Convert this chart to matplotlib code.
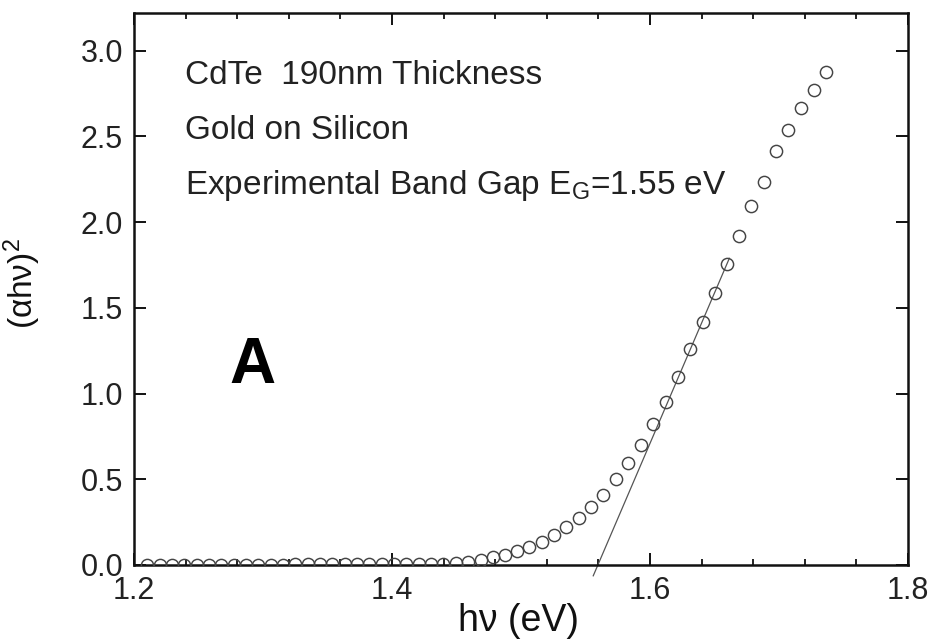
import matplotlib
matplotlib.use("Agg")
import matplotlib.pyplot as plt
from matplotlib.ticker import MultipleLocator

plt.rcParams['font.family'] = ['Liberation Sans', 'DejaVu Sans']
plt.rcParams['mathtext.fontset'] = 'custom'
plt.rcParams['mathtext.rm'] = 'Liberation Sans'
plt.rcParams['mathtext.it'] = 'Liberation Sans:italic'

# photon energy (eV)
energy = [1.2102, 1.2198, 1.2293, 1.2389, 1.2485, 1.2580, 1.2676, 1.2772,
          1.2867, 1.2963, 1.3059, 1.3154, 1.3250, 1.3346, 1.3441, 1.3537,
          1.3633, 1.3728, 1.3824, 1.3920, 1.4015, 1.4111, 1.4207, 1.4302,
          1.4398, 1.4494, 1.4591, 1.4688, 1.4781, 1.4876, 1.4971, 1.5064,
          1.5160, 1.5256, 1.5349, 1.5447, 1.5543, 1.5638, 1.5736, 1.5832,
          1.5930, 1.6026, 1.6122, 1.6215, 1.6310, 1.6409, 1.6504, 1.6595,
          1.6688, 1.6786, 1.6885, 1.6979, 1.7072, 1.7173, 1.7269, 1.7367]
# (alpha h nu)^2
alpha_hv2 = [0.002, 0.002, 0.002, 0.002, 0.002, 0.002, 0.002, 0.002,
             0.002, 0.002, 0.002, 0.002, 0.003, 0.003, 0.003, 0.003,
             0.003, 0.003, 0.004, 0.004, 0.004, 0.004, 0.005, 0.006,
             0.007, 0.012, 0.018, 0.029, 0.045, 0.060, 0.082, 0.107,
             0.136, 0.175, 0.220, 0.276, 0.338, 0.411, 0.499, 0.593,
             0.699, 0.820, 0.952, 1.098, 1.258, 1.415, 1.584, 1.754,
             1.917, 2.093, 2.237, 2.414, 2.540, 2.666, 2.772, 2.876]

# linear fit (band-gap extrapolation)
fit_x = [1.5560, 1.6615]
fit_y = [-0.063, 1.789]

xticks = [1.2, 1.4, 1.6, 1.8]
xticklabels = ['1.2', '1.4', '1.6', '1.8']
yticks = [0.0, 0.5, 1.0, 1.5, 2.0, 2.5, 3.0]
yticklabels = ['0.0', '0.5', '1.0', '1.5', '2.0', '2.5', '3.0']

fig = plt.figure(figsize=(9.32, 6.40), dpi=100)
ax = fig.add_axes([134/932, 1 - 565/640, 774/932, 552/640])

ax.plot(fit_x, fit_y, color='#555555', lw=0.9, clip_on=False, zorder=2)
ax.plot(energy, alpha_hv2, linestyle='none', marker='o', markersize=8.8,
        markerfacecolor='none', markeredgecolor='#444444', markeredgewidth=1.05,
        zorder=3)

ax.set_xlim(1.2, 1.8)
ax.set_ylim(0, 3.22)
ax.set_xticks(xticks)
ax.set_xticklabels(xticklabels)
ax.set_yticks(yticks)
ax.set_yticklabels(yticklabels)
ax.xaxis.set_minor_locator(MultipleLocator(0.04))

for s in ax.spines.values():
    s.set_linewidth(1.8)
    s.set_color('#111111')

ax.tick_params(axis='both', which='major', direction='in', length=8.5, width=1.4,
               top=True, right=True, labelsize=22, pad=8, colors='#111111',
               labelcolor='#222222')
ax.tick_params(axis='x', which='minor', direction='in', length=4.5, width=1.3,
               top=True, bottom=True, colors='#111111')

ax.set_xlabel('hν (eV)', fontsize=27, color='#111111')
ax.xaxis.set_label_coords(0.497, -0.068)
ax.set_ylabel('(αhν)$^{\\mathregular{2}}$', fontsize=24, color='#111111')
ax.yaxis.set_label_coords(-0.1176, 0.51)

ax.text(0.066, 0.871, 'CdTe  190nm Thickness', transform=ax.transAxes,
        fontsize=24, color='#222222', va='baseline')
ax.text(0.066, 0.772, 'Gold on Silicon', transform=ax.transAxes,
        fontsize=24, color='#222222', va='baseline')
ax.text(0.066, 0.672, 'Experimental Band Gap $\\mathregular{E_G}$=1.55 eV',
        transform=ax.transAxes, fontsize=24, color='#222222', va='baseline')

ax.text(0.1525, 0.33, 'A', transform=ax.transAxes, fontsize=46,
        fontweight='heavy', family=['Liberation Sans Narrow', 'Liberation Sans', 'DejaVu Sans'],
        ha='center', va='baseline', color='black')

fig.savefig('out.png', dpi=100)
